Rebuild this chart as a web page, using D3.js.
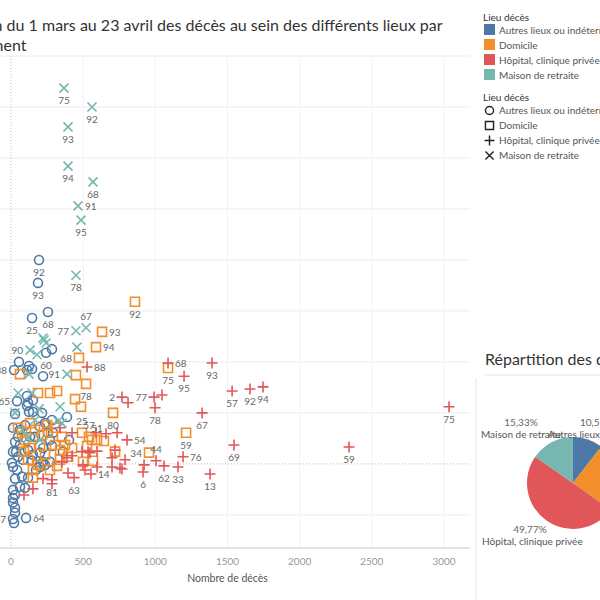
<!DOCTYPE html>
<meta charset="utf-8">
<style>
body { margin: 0; background: #fff; }
svg { font-family: Lato, "Open Sans", sans-serif; }
.grid line { stroke: #ececec; stroke-width: 1px; }
.zero { stroke: #bbb; stroke-width: 1px; stroke-dasharray: 1,2; }
.mark { fill: none; stroke-width: 1.6px; }
.lbl { font-size: 10px; fill: #666; }
.tick-lbl { font-size: 10px; fill: #999; }
.legend text { font-size: 10px; fill: #555; }
</style>
<svg width="600" height="600"></svg>
<script src="https://cdn.jsdelivr.net/npm/d3@7"></script>
<script>
// Lieux de décès, ordre de la légende
const lieux = ['Autres lieux ou indéterminé', 'Domicile', 'Hôpital, clinique privée', 'Maison de retraite'];
const couleurs = ['#4e79a7', '#f28e2b', '#e15759', '#76b7b2'];

// points : [nombre de décès, évolution (%), département, position étiquette]
const autres = [
    [194, 400, '92'], [187, 355, '93'], [256, 298, '68'], [146, 286, '25'], [284, 225], [243, 218, '60'],
    [55, 200], [21, 184, '38', 'l'], [111, 184], [146, 186], [125, 192], [222, 172], [42, 123, '65', 'l'],
    [111, 133], [118, 120], [152, 125], [111, 114], [125, 102], [152, 102], [215, 100], [28, 98],
    [284, 86], [201, 73], [236, 80], [291, 61], [402, 47], [270, 47], [284, 35], [222, 31], [28, 43],
    [62, 37], [118, 27], [35, 24], [360, 24], [388, 92], [49, 14], [83, 8], [14, -6], [7, 2], [42, -12],
    [76, -25], [28, -29], [62, -45], [97, -47], [14, -51], [28, -61], [14, -67], [14, -76], [28, -86],
    [28, -96], [14, -108, '47', 'l'], [21, -116], [104, -106, '64', 'r'], [201, -6], [222, 4], [152, 18],
    [201, 22], [236, -2], [270, 4], [166, 53], [256, 61], [132, 53], [14, 24], [62, 67], [97, 76],
    [49, 53], [173, -12], [118, -27], [146, 6], [14, 71]
];
const domicile = [
    [859, 318, '92'], [631, 259, '93', 'r'], [589, 229, '94', 'r'], [471, 208, '68', 'l'], [1088, 188, '75'],
    [520, 157, '78'], [450, 174], [62, 176], [187, 139], [270, 139], [319, 143], [444, 127], [485, 112],
    [707, 100, '80'], [1213, 61, '59'], [956, 22, '34', 'l'], [492, 61, '25', 'a'], [541, 53, '57', 'a'],
    [596, 47, '51', 'a'], [644, 45], [561, 47], [527, 35], [721, 24], [568, 6], [499, 4], [152, -27],
    [319, -4], [395, 14], [353, 53], [256, 63], [49, 71], [97, 47], [132, 31], [166, 67], [201, 37],
    [236, 18], [305, 37], [340, 27], [118, 8], [187, -2], [270, -12], [90, 24], [305, 71], [374, 37],
    [215, 57], [152, -12], [340, 8], [76, 61], [423, 31], [250, 76], [132, 80]
];
const hopital = [
    [527, 190, '88', 'r'], [1088, 198, '68', 'r'], [1199, 172, '95'], [769, 131, '2', 'l'], [811, 120],
    [991, 131, '77', 'l'], [1046, 135], [998, 110, '78'], [1393, 198, '93'], [1532, 143, '57'],
    [1656, 147, '92'], [1746, 151, '94'], [1324, 100, '67'], [3035, 112, '75'], [1545, 37, '69'],
    [2342, 33, '59'], [1379, -20, '13'], [1192, 14, '76', 'r'], [1157, -6, '33'], [1060, -4, '62'],
    [1005, 6, '44', 'a'], [915, -16, '6'], [922, -2], [804, 47, '54', 'r'], [554, -20, '14', 'r'],
    [284, -31, '81'], [437, -27, '63'], [735, 61], [658, 59], [589, 61], [547, 22], [596, 25], [492, 24],
    [423, 16], [388, 12], [499, -2], [513, -12], [395, -18], [222, -29], [284, -39], [152, -49], [90, -61],
    [700, 12], [700, -6], [769, -10], [790, 8], [596, -6], [340, 71], [423, 61], [721, 27], [755, -8],
    [534, 24], [353, 4]
];
const retraite = [
    [367, 737, '75'], [561, 700, '92'], [395, 661, '93'], [395, 584, '94'], [568, 553, '68'],
    [464, 506, '91', 'r'], [485, 478, '95'], [450, 370, '78'], [450, 261, '77', 'l'], [520, 267, '67', 'a'],
    [457, 229], [229, 243], [243, 237], [222, 247], [132, 223, '90', 'l'], [180, 214], [388, 176, '91', 'l'],
    [125, 176], [49, 139], [146, 139], [194, 108], [340, 112], [28, 100], [326, 84], [353, 80],
    [76, 67], [118, 51], [166, 86], [201, 47]
];

// répartition (%)
const partLieux = [10.52, 24.38, 49.77, 15.33];
const partTexte = ['10,52%', '24,38%', '49,77%', '15,33%'];

const xTicks = [0, 500, 1000, 1500, 2000, 2500, 3000];

const svg = d3.select('svg');

const x = d3.scaleLinear().domain([0, 3000]).range([11, 444]);
const y = d3.scaleLinear().domain([-165, 800]).range([548, 56]);
const left = 0, right = 470;

// titre (coupé à gauche comme dans le tableau de bord)
const title = svg.append('text').attr('x', -64).attr('y', 31)
    .attr('font-size', 16).attr('fill', '#333');
title.append('tspan').attr('x', -64).text('Évolution du 1 mars au 23 avril des décès au sein des différents lieux par');
title.append('tspan').attr('x', -64).attr('dy', 20).text('département');

// grille
const grid = svg.append('g').attr('class', 'grid');
grid.selectAll('.h').data(d3.range(-100, 801, 100).filter(d => d !== 0))
    .enter().append('line')
        .attr('x1', left).attr('x2', right)
        .attr('y1', d => y(d)).attr('y2', d => y(d));
grid.selectAll('.v').data(xTicks.filter(d => d !== 0))
    .enter().append('line')
        .attr('x1', d => x(d)).attr('x2', d => x(d))
        .attr('y1', 56).attr('y2', 548)
        .style('stroke', '#f3f3f3');
svg.append('line').attr('class', 'zero')
    .attr('x1', left).attr('x2', right).attr('y1', y(0)).attr('y2', y(0));
svg.append('line').attr('class', 'zero')
    .attr('x1', x(0)).attr('x2', x(0)).attr('y1', 56).attr('y2', 548);

// axe x
svg.append('line').attr('x1', left).attr('x2', right).attr('y1', 548).attr('y2', 548)
    .attr('stroke', '#d9d9d9').attr('stroke-width', 1.5);
svg.selectAll('.xt').data(xTicks).enter().append('text')
    .attr('class', 'tick-lbl')
    .attr('x', d => x(d)).attr('y', 565)
    .attr('text-anchor', 'middle')
    .text(d => d);
svg.append('text').attr('x', x(1500)).attr('y', 582)
    .attr('text-anchor', 'middle').attr('font-size', 10.5).attr('fill', '#555')
    .text('Nombre de décès');

// formes
const shapes = {
    circle: 'M4.5,0A4.5,4.5,0,1,1,-4.5,0A4.5,4.5,0,1,1,4.5,0Z',
    square: 'M-4.5,-4.5H4.5V4.5H-4.5Z',
    plus: 'M-5.5,0H5.5M0,-5.5V5.5',
    cross: 'M-4.5,-4.5L4.5,4.5M-4.5,4.5L4.5,-4.5'
};
const series = [
    {data: autres, shape: 'circle', color: couleurs[0]},
    {data: domicile, shape: 'square', color: couleurs[1]},
    {data: hopital, shape: 'plus', color: couleurs[2]},
    {data: retraite, shape: 'cross', color: couleurs[3]}
];

const marks = svg.append('g').attr('clip-path', 'url(#plot)');
svg.append('clipPath').attr('id', 'plot').append('rect')
    .attr('x', -10).attr('y', 56).attr('width', right + 10).attr('height', 492);

series.forEach(s => {
    marks.append('g').selectAll('path')
        .data(s.data)
        .enter().append('path')
            .attr('class', 'mark')
            .attr('d', shapes[s.shape])
            .attr('stroke', s.color)
            .attr('transform', d => `translate(${x(d[0])},${y(d[1])})`);
});

// étiquettes
series.forEach(s => {
    marks.append('g').selectAll('text')
        .data(s.data.filter(d => d[2]))
        .enter().append('text')
            .attr('class', 'lbl')
            .attr('x', d => x(d[0]) + (d[3] === 'r' ? 7 : d[3] === 'l' ? -7 : 0))
            .attr('y', d => y(d[1]) + (d[3] === 'r' || d[3] === 'l' ? 4 : d[3] === 'a' ? -8 : 16))
            .attr('text-anchor', d => d[3] === 'r' ? 'start' : d[3] === 'l' ? 'end' : 'middle')
            .text(d => d[2]);
});

// légendes
const leg = svg.append('g').attr('class', 'legend');
leg.append('text').attr('x', 483).attr('y', 21).text('Lieu décès').style('fill', '#333');
lieux.forEach((l, i) => {
    leg.append('rect').attr('x', 484).attr('y', 24 + i * 15).attr('width', 11).attr('height', 11)
        .attr('fill', couleurs[i]);
    leg.append('text').attr('x', 499).attr('y', 33.5 + i * 15).text(l);
});
leg.append('text').attr('x', 483).attr('y', 101).text('Lieu décès').style('fill', '#333');
const legShapes = ['circle', 'square', 'plus', 'cross'];
lieux.forEach((l, i) => {
    leg.append('path').attr('d', shapes[legShapes[i]])
        .attr('transform', `translate(489.5,${110.5 + i * 15}) scale(0.9)`)
        .attr('fill', 'none').attr('stroke', '#222').attr('stroke-width', 1.6);
    leg.append('text').attr('x', 499).attr('y', 114 + i * 15).text(l);
});

// séparateurs
svg.append('line').attr('x1', 476).attr('x2', 476).attr('y1', 378).attr('y2', 600)
    .attr('stroke', '#e6e6e6');
svg.append('line').attr('x1', 485).attr('x2', 600).attr('y1', 375).attr('y2', 375)
    .attr('stroke', '#e6e6e6');

// camembert
svg.append('text').attr('x', 485).attr('y', 365).attr('font-size', 16).attr('fill', '#333')
    .text('Répartition des décès par lieu');

const cx = 573, cy = 483, r = 46;
const pie = d3.pie().sort(null).value(d => d)(partLieux);
const arc = d3.arc().innerRadius(0).outerRadius(r);
const pg = svg.append('g').attr('transform', `translate(${cx},${cy})`);
pg.selectAll('path').data(pie).enter().append('path')
    .attr('d', arc)
    .attr('fill', (d, i) => couleurs[i]);

const pieLbl = [
    {i: 3, x: 521, y: 426, a: 'middle'},
    {i: 0, x: 580, y: 426, a: 'start', x2: 548},
    {i: 2, x: 530, y: 533, a: 'middle'}
];
pieLbl.forEach(p => {
    svg.append('text').attr('x', p.x).attr('y', p.y).attr('text-anchor', p.a)
        .attr('font-size', 10).attr('fill', '#666').text(partTexte[p.i]);
    svg.append('text').attr('x', p.x2 || (p.i === 2 ? 482 : p.x)).attr('y', p.y + 12)
        .attr('text-anchor', p.x2 || p.i === 2 ? 'start' : p.a)
        .attr('font-size', 10).attr('fill', '#555').text(lieux[p.i]);
});
</script>
